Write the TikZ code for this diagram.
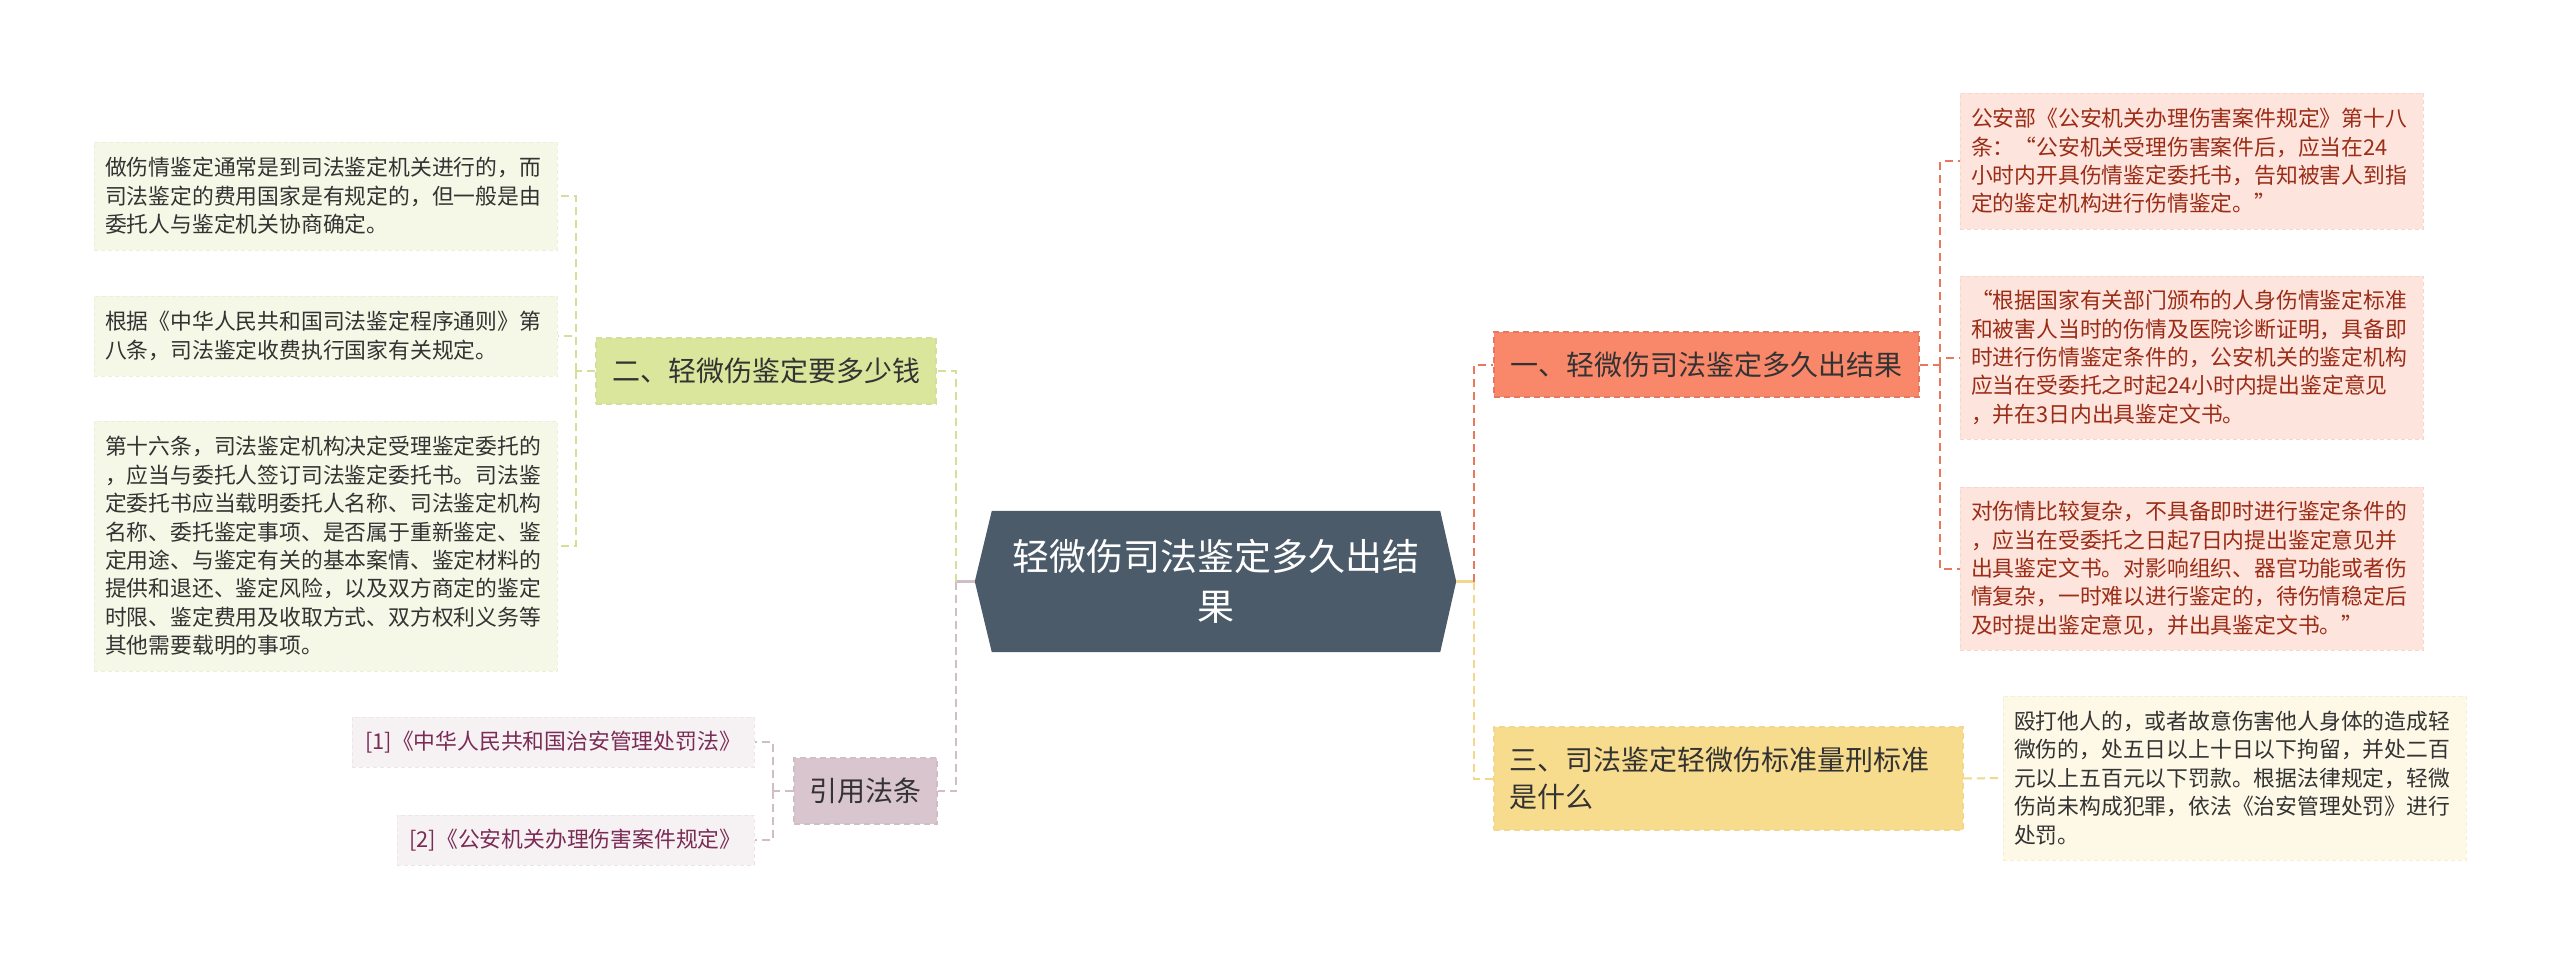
\documentclass[tikz,border=0pt]{standalone}
\usepackage{fontspec}
\setmainfont{Noto Sans CJK SC}
\usetikzlibrary{calc,backgrounds}
\definecolor{cDark}{HTML}{4B5B6A}
\definecolor{oFill}{HTML}{F9876A}
\definecolor{oLine}{HTML}{E8775E}
\definecolor{gFill}{HTML}{DAE69C}
\definecolor{gLine}{HTML}{D3E09A}
\definecolor{yFill}{HTML}{F8DC8E}
\definecolor{yLine}{HTML}{F2D78C}
\definecolor{mFill}{HTML}{D9C5CD}
\definecolor{mLine}{HTML}{D0BEC6}
\definecolor{rLeaf}{HTML}{FDE4DD}
\definecolor{rLeafB}{HTML}{F8D6CC}
\definecolor{rText}{HTML}{9B2C16}
\definecolor{gLeaf}{HTML}{F5F8E6}
\definecolor{gLeafB}{HTML}{ECF0D8}
\definecolor{yLeaf}{HTML}{FEF8E7}
\definecolor{yLeafB}{HTML}{F6EFD6}
\definecolor{mLeaf}{HTML}{F6F1F3}
\definecolor{mLeafB}{HTML}{EDE5E8}
\definecolor{mText}{HTML}{7B2C56}
\definecolor{tDark}{HTML}{333333}
\begin{document}
\begin{tikzpicture}[x=1pt,y=-1pt,
  leaf/.style={inner xsep=11pt, inner ysep=0pt, text width=441pt, align=left,
    font=\fontsize{21.8}{28.4}\selectfont, dashed, dash pattern=on 4pt off 3pt, line width=1pt},
  branch/.style={inner xsep=15pt, inner ysep=0pt, font=\fontsize{28}{37}\selectfont,
    text=tDark, dashed, dash pattern=on 6pt off 4pt, line width=1.5pt},
  reflf/.style={inner xsep=11pt, inner ysep=0pt, align=center, text=mText, fill=mLeaf,
    draw=mLeafB, dashed, dash pattern=on 4pt off 3pt, line width=1pt,
    font=\fontsize{21.8}{28.4}\selectfont, minimum height=50pt},
  conn/.style={line width=2pt, dash pattern=on 8pt off 5pt},
  stub/.style={line width=2.5pt}]
\useasboundingbox (0,0) rectangle (2560,959);

% central node
\node[minimum width=448pt, minimum height=141pt, inner sep=0pt, align=center, text=white,
  font=\fontsize{37}{50}\selectfont] (C) at (1216,581.5) {轻微伤司法鉴定多久出结\\果};
\begin{pgfonlayer}{background}
\fill[white] (0,0) rectangle (2560,959);
\fill[cDark] (C.north west) -- (C.north east) -- ($(C.east)+(16,0)$) -- (C.south east)
  -- (C.south west) -- ($(C.west)+(-17,0)$) -- cycle;
\end{pgfonlayer}
\coordinate (CR) at ($(C.east)+(16,0)$);
\coordinate (CL) at ($(C.west)+(-17,0)$);

% branch nodes
\node[branch, fill=oFill, draw=oLine, minimum width=425pt, minimum height=65pt] (B1) at (1706.5,364.5) {一、轻微伤司法鉴定多久出结果};
\node[branch, fill=gFill, draw=gLine, minimum width=340pt, minimum height=66pt] (B2) at (766,371) {二、轻微伤鉴定要多少钱};
\node[branch, fill=yFill, draw=yLine, text width=439pt, align=left, minimum height=103pt] (B3) at (1728.5,778.5) {三、司法鉴定轻微伤标准量刑标准\\是什么};
\node[branch, fill=mFill, draw=mLine, minimum width=143pt, minimum height=66pt] (B4) at (865.5,791) {引用法条};

% right leaves
\node[leaf, fill=rLeaf, draw=rLeafB, text=rText, minimum height=136pt] (R1) at (2191.5,161) {公安部《公安机关办理伤害案件规定》第十八\\条：“公安机关受理伤害案件后，应当在24\\小时内开具伤情鉴定委托书，告知被害人到指\\定的鉴定机构进行伤情鉴定。”};
\node[leaf, fill=rLeaf, draw=rLeafB, text=rText, minimum height=163pt] (R2) at (2191.5,357.5) {“根据国家有关部门颁布的人身伤情鉴定标准\\和被害人当时的伤情及医院诊断证明，具备即\\时进行伤情鉴定条件的，公安机关的鉴定机构\\应当在受委托之时起24小时内提出鉴定意见\\，并在3日内出具鉴定文书。};
\node[leaf, fill=rLeaf, draw=rLeafB, text=rText, minimum height=163pt] (R3) at (2191.5,568.5) {对伤情比较复杂，不具备即时进行鉴定条件的\\，应当在受委托之日起7日内提出鉴定意见并\\出具鉴定文书。对影响组织、器官功能或者伤\\情复杂，一时难以进行鉴定的，待伤情稳定后\\及时提出鉴定意见，并出具鉴定文书。”};
\node[leaf, fill=yLeaf, draw=yLeafB, text=tDark, minimum height=164pt] (R4) at (2234.5,778) {殴打他人的，或者故意伤害他人身体的造成轻\\微伤的，处五日以上十日以下拘留，并处二百\\元以上五百元以下罚款。根据法律规定，轻微\\伤尚未构成犯罪，依法《治安管理处罚》进行\\处罚。};

% left leaves
\node[leaf, fill=gLeaf, draw=gLeafB, text=tDark, minimum height=108pt] (L1) at (325.5,196) {做伤情鉴定通常是到司法鉴定机关进行的，而\\司法鉴定的费用国家是有规定的，但一般是由\\委托人与鉴定机关协商确定。};
\node[leaf, fill=gLeaf, draw=gLeafB, text=tDark, minimum height=80pt] (L2) at (325.5,336) {根据《中华人民共和国司法鉴定程序通则》第\\八条，司法鉴定收费执行国家有关规定。};
\node[leaf, fill=gLeaf, draw=gLeafB, text=tDark, minimum height=250pt] (L3) at (325.5,546) {第十六条，司法鉴定机构决定受理鉴定委托的\\，应当与委托人签订司法鉴定委托书。司法鉴\\定委托书应当载明委托人名称、司法鉴定机构\\名称、委托鉴定事项、是否属于重新鉴定、鉴\\定用途、与鉴定有关的基本案情、鉴定材料的\\提供和退还、鉴定风险，以及双方商定的鉴定\\时限、鉴定费用及收取方式、双方权利义务等\\其他需要载明的事项。};

% reference leaves
\node[reflf, minimum width=402pt] (F1) at (553,742) {[1]《中华人民共和国治安管理处罚法》};
\node[reflf, minimum width=357pt] (F2) at (575.5,840) {[2]《公安机关办理伤害案件规定》};

% junction coordinates
\coordinate (TR) at (1474,581.5);
\coordinate (TL) at (956,581.5);
\coordinate (J1) at (1940,364.5);
\coordinate (J2) at (576,371);
\coordinate (J4) at (773,791);

% connectors right
\draw[stub, yLine] (CR) -- (TR);
\draw[conn, oLine] (TR) |- (B1.west);
\draw[conn, yLine] (TR) |- (B3.west);
\draw[conn, oLine] (B1.east) -- (J1);
\draw[conn, oLine] (J1) |- (R1.west);
\draw[conn, oLine] (J1) |- (R2.west);
\draw[conn, oLine] (J1) |- (R3.west);
\draw[conn, yLine] (B3.east) -- (R4.west);

% connectors left
\draw[stub, mLine] (CL) -- (TL);
\draw[conn, gLine] (TL) |- (B2.east);
\draw[conn, mLine] (TL) |- (B4.east);
\draw[conn, gLine] (B2.west) -- (J2);
\draw[conn, gLine] (J2) |- (L1.east);
\draw[conn, gLine] (J2) |- (L2.east);
\draw[conn, gLine] (J2) |- (L3.east);
\draw[conn, mLine] (B4.west) -- (J4);
\draw[conn, mLine] (J4) |- (F1.east);
\draw[conn, mLine] (J4) |- (F2.east);
\end{tikzpicture}
\end{document}
